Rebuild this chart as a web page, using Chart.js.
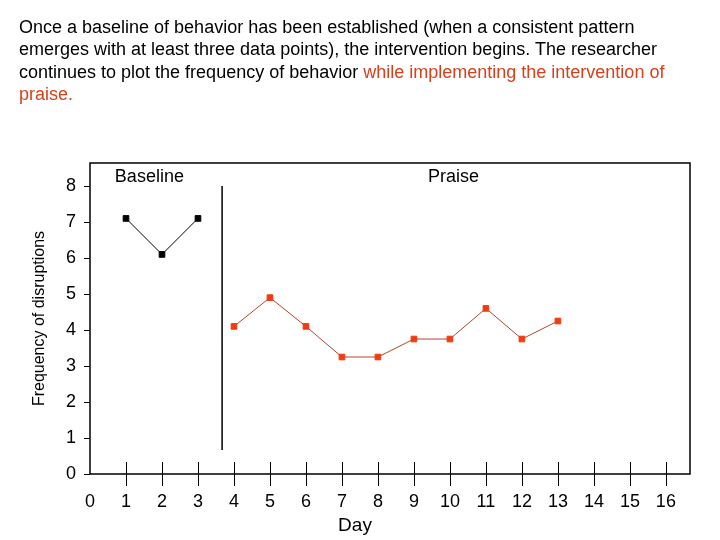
<!DOCTYPE html>
<html>
<head>
<meta charset="utf-8">
<script src="https://cdn.jsdelivr.net/npm/chart.js@4"></script>
<style>
  body { margin: 0; background: #fff; }
  #wrap { position: relative; width: 720px; height: 540px; }
  #c { position: absolute; left: 0; top: 0; }
  #intro {
    position: absolute; left: 19px; top: 16px; width: 700px; margin: 0;
    font-family: "Liberation Sans", Arial, sans-serif; font-size: 18px; line-height: 22.3px; color: #000;
    white-space: nowrap;
  }
  #intro span { color: #d8401c; }
</style>
</head>
<body>
<div id="wrap">
  <canvas id="c" width="720" height="540"></canvas>
  <p id="intro">Once a baseline of behavior has been established (when a consistent pattern<br>emerges with at least three data points), the intervention begins. The researcher<br>continues to plot the frequency of behavior <span>while implementing the intervention of<br>praise.</span></p>
</div>
<script>
const baselineDays = [1, 2, 3];
const baselineValues = [7.1, 6.1, 7.1];
const praiseDays = [4, 5, 6, 7, 8, 9, 10, 11, 12, 13];
const praiseValues = [4.1, 4.9, 4.1, 3.25, 3.25, 3.75, 3.75, 4.6, 3.75, 4.25];
const phaseLineX = [3.67, 3.67];
const phaseLineY = [0.67, 8];
const xTicks = [0, 1, 2, 3, 4, 5, 6, 7, 8, 9, 10, 11, 12, 13, 14, 15, 16];
const yTicks = [0, 1, 2, 3, 4, 5, 6, 7, 8];
const phaseLabels = [{ text: "Baseline", x: 1.65 }, { text: "Praise", x: 10.1 }];

const font = "Liberation Sans";

const toPoints = (xs, ys) => xs.map((x, i) => ({ x, y: ys[i] }));

const ctx = document.getElementById("c").getContext("2d");

new Chart(ctx, {
  type: "line",
  data: {
    datasets: [
      {
        label: "Baseline",
        data: toPoints(baselineDays, baselineValues),
        borderColor: "#000000",
        backgroundColor: "#000000",
        borderWidth: 1,
        pointStyle: "rect",
        pointRadius: 4,
      },
      {
        label: "Praise",
        data: toPoints(praiseDays, praiseValues),
        borderColor: "#b0452a",
        backgroundColor: "#ee3d12",
        pointBorderColor: "#ee3d12",
        borderWidth: 1,
        pointStyle: "rect",
        pointRadius: 4,
      },
      {
        label: "Phase change",
        data: toPoints(phaseLineX, phaseLineY),
        borderColor: "#000000",
        borderWidth: 1.5,
        pointRadius: 0,
      },
    ],
  },
  options: {
    responsive: false,
    animation: false,
    layout: { padding: { top: 163, right: 30, left: 0, bottom: 0 } },
    plugins: {
      legend: { display: false },
      tooltip: { enabled: false },
    },
    scales: {
      x: {
        type: "linear",
        min: 0,
        max: 16.67,
        afterBuildTicks: (scale) => {
          scale.ticks = xTicks.map((v) => ({ value: v }));
        },
        afterFit: (scale) => {
          scale.height = 66;
        },
        grid: { display: false },
        border: { display: false },
        ticks: {
          color: "#000000",
          padding: 9,
          maxRotation: 0,
          font: { size: 18, family: font },
        },
      },
      y: {
        min: 0,
        max: 8.64,
        afterBuildTicks: (scale) => {
          scale.ticks = yTicks.map((v) => ({ value: v }));
        },
        afterFit: (scale) => {
          scale.width = 90;
        },
        grid: { drawOnChartArea: false, tickLength: 6, color: "#000000" },
        border: { display: false },
        ticks: {
          color: "#000000",
          padding: 8,
          font: { size: 18, family: font },
        },
      },
    },
  },
  plugins: [
    {
      afterDraw: (chart) => {
        const c = chart.ctx;
        const area = chart.chartArea;
        const xs = chart.scales.x;
        c.save();
        c.strokeStyle = "#000000";
        c.lineWidth = 1.5;
        c.strokeRect(area.left, area.top, area.right - area.left, area.bottom - area.top);

        // x tick marks crossing the axis
        c.lineWidth = 1;
        xTicks.slice(1).forEach((v) => {
          const px = Math.round(xs.getPixelForValue(v)) + 0.5;
          c.beginPath();
          c.moveTo(px, area.bottom - 12);
          c.lineTo(px, area.bottom + 12);
          c.stroke();
        });

        c.fillStyle = "#000000";
        c.font = `18px "${font}"`;
        c.textAlign = "center";
        c.textBaseline = "middle";
        phaseLabels.forEach((p) => {
          c.fillText(p.text, xs.getPixelForValue(p.x), area.top + 14);
        });

        c.font = `19px "${font}"`;
        c.fillText("Day", 355, 526);

        c.font = `16px "${font}"`;
        c.translate(40, (area.top + area.bottom) / 2);
        c.rotate(-Math.PI / 2);
        c.fillText("Frequency of disruptions", 0, 0);
        c.restore();
      },
    },
  ],
});
</script>
</body>
</html>
